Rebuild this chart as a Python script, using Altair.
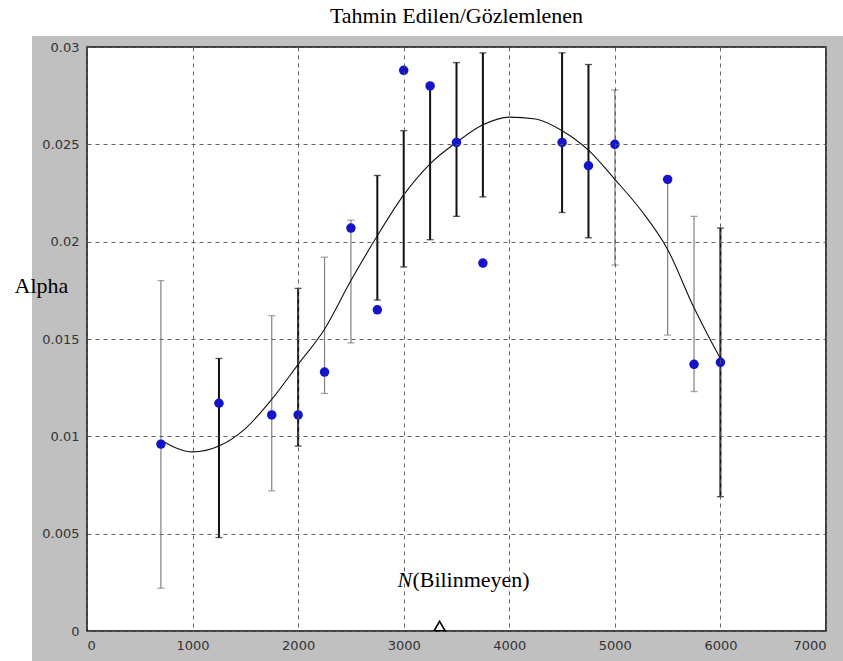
import altair as alt
import pandas as pd

# Observed alpha per N, with its uncertainty range
n_obs = [700, 1250, 1750, 2000, 2250, 2500, 2750, 3000, 3250, 3500, 3750,
         4500, 4750, 5000, 5500, 5750, 6000]
alpha_obs = [0.0096, 0.0117, 0.0111, 0.0111, 0.0133, 0.0207, 0.0165, 0.0288,
             0.0280, 0.0251, 0.0189, 0.0251, 0.0239, 0.0250, 0.0232, 0.0137, 0.0138]
alpha_low = [0.0022, 0.0048, 0.0072, 0.0095, 0.0122, 0.0148, 0.0170, 0.0187,
             0.0201, 0.0213, 0.0223, 0.0215, 0.0202, 0.0188, 0.0152, 0.0123, 0.0069]
alpha_high = [0.0180, 0.0140, 0.0162, 0.0176, 0.0192, 0.0211, 0.0234, 0.0257,
              0.0280, 0.0292, 0.0297, 0.0297, 0.0291, 0.0278, 0.0232, 0.0213, 0.0207]
range_group = ["B", "A", "B", "A", "B", "B", "A", "A", "A", "A", "A",
               "A", "A", "B", "B", "B", "A"]

# Predicted (fitted) curve
fit_n = [700, 1000, 1250, 1500, 1750, 2000, 2250, 2500, 2750, 3000, 3250, 3500,
         3750, 4000, 4250, 4500, 4750, 5000, 5250, 5500, 5750, 5900, 6000]
fit_alpha = [0.0098, 0.0092, 0.0095, 0.0104, 0.0119, 0.0137, 0.0155, 0.0180,
             0.0203, 0.0224, 0.0240, 0.0251, 0.0260, 0.0264, 0.0263, 0.0257,
             0.0247, 0.0232, 0.0216, 0.0196, 0.0166, 0.0150, 0.0140]

# Unknown N marker and its label
n_unknown = [3340]
label_n = [2940]
label_alpha = [0.0026]

x_ticks = [0, 1000, 2000, 3000, 4000, 5000, 6000, 7000]
y_ticks = [0, 0.005, 0.01, 0.015, 0.02, 0.025, 0.03]

W, H = 739, 584
GREY = "#c0c0c0"
SERIF = "Liberation Serif"
SERIF_SIZE = 22

obs = pd.DataFrame({"N": n_obs, "alpha": alpha_obs, "lo": alpha_low,
                    "hi": alpha_high, "grp": range_group})
fit = pd.DataFrame({"N": fit_n, "alpha": fit_alpha})
unk = pd.DataFrame({"N": n_unknown, "alpha": [0.0] * len(n_unknown)})
lab = pd.DataFrame({"N": label_n, "alpha": label_alpha})

xs = alt.Scale(domain=[0, 7000], nice=False, zero=False)
ys = alt.Scale(domain=[0, 0.03], nice=False)

x_axis = alt.Axis(values=x_ticks, format="d", zindex=2)
y_axis = alt.Axis(values=y_ticks, format="~g", zindex=2)

x_enc = alt.X("N:Q", scale=xs, title=None, axis=x_axis)
y_enc = alt.Y("alpha:Q", scale=ys, title="Alpha", axis=y_axis)

# grey figure frame around the plot area
one = pd.DataFrame({"k": [0]})
frame_parts = [
    dict(x=alt.value(-55), x2=alt.value(-1), y=alt.value(-11), y2=alt.value(H + 30)),
    dict(x=alt.value(W + 1), x2=alt.value(W + 17), y=alt.value(-11), y2=alt.value(H + 30)),
    dict(x=alt.value(-55), x2=alt.value(W + 17), y=alt.value(-11), y2=alt.value(-1)),
    dict(x=alt.value(-55), x2=alt.value(W + 17), y=alt.value(H + 1), y2=alt.value(H + 30)),
]
frame = [alt.Chart(one).mark_rect(color=GREY).encode(**p) for p in frame_parts]

grp_color = alt.Color("grp:N", scale=alt.Scale(domain=["A", "B"],
                                               range=["#111111", "#808080"]),
                      legend=None)
grp_width = alt.StrokeWidth("grp:N", scale=alt.Scale(domain=["A", "B"], range=[2, 1.2]),
                            legend=None)

bars = alt.Chart(obs).mark_rule().encode(
    x=x_enc, y=alt.Y("lo:Q", scale=ys), y2="hi:Q", color=grp_color, strokeWidth=grp_width
)

cap_lo = alt.Chart(obs).mark_tick(orient="horizontal", size=7, thickness=1.3).encode(
    x=x_enc, y=alt.Y("lo:Q", scale=ys), color=grp_color)
cap_hi = alt.Chart(obs).mark_tick(orient="horizontal", size=7, thickness=1.3).encode(
    x=x_enc, y=alt.Y("hi:Q", scale=ys), color=grp_color)

curve = alt.Chart(fit).mark_line(color="#111111", strokeWidth=1.1,
                                 interpolate="monotone").encode(x=x_enc, y=y_enc)

points = alt.Chart(obs).mark_point(shape="circle", filled=True, size=90,
                                   color="#1414c8", opacity=1).encode(x=x_enc, y=y_enc)

tri = alt.Chart(unk).mark_point(shape="triangle-up", filled=False, size=120,
                                color="black", strokeWidth=1.6, yOffset=-5,
                                opacity=1).encode(x=x_enc, y=y_enc)

lab_n = alt.Chart(lab).mark_text(text="N", font=SERIF, fontSize=SERIF_SIZE,
                                 fontStyle="italic", align="left", baseline="middle",
                                 color="black").encode(x=x_enc, y=y_enc)
lab_rest = alt.Chart(lab).mark_text(text="(Bilinmeyen)", font=SERIF,
                                    fontSize=SERIF_SIZE, align="left", baseline="middle",
                                    dx=15, color="black").encode(x=x_enc, y=y_enc)

chart = alt.layer(
    *frame, bars, cap_lo, cap_hi, curve, points, tri, lab_n, lab_rest
).resolve_axis(x="shared", y="shared").properties(
    width=W, height=H,
    title=alt.TitleParams("Tahmin Edilen/Gözlemlenen", font=SERIF,
                          fontSize=SERIF_SIZE, fontWeight="normal", color="black",
                          anchor="middle", offset=8),
    autosize=alt.AutoSizeParams(type="none"),
    padding={"left": 87, "top": 47, "right": 17, "bottom": 30},
    background="white",
).configure_view(
    fill="white", stroke="black", strokeWidth=1.5
).configure_axis(
    grid=True, gridColor="#555555", gridDash=[4, 4], gridWidth=1, gridOpacity=0.9,
    domain=False, ticks=False, labelFont="DejaVu Sans", labelFontSize=13,
    labelColor="#333333", labelPadding=8,
).configure_axisY(
    titleAngle=0, titleX=-73, titleY=238, titleAlign="left", titleBaseline="middle",
    titleFont=SERIF, titleFontSize=SERIF_SIZE, titleFontWeight="normal",
    titleColor="black",
)

chart.save("out.html", embed_options={"renderer": "svg", "actions": False})
